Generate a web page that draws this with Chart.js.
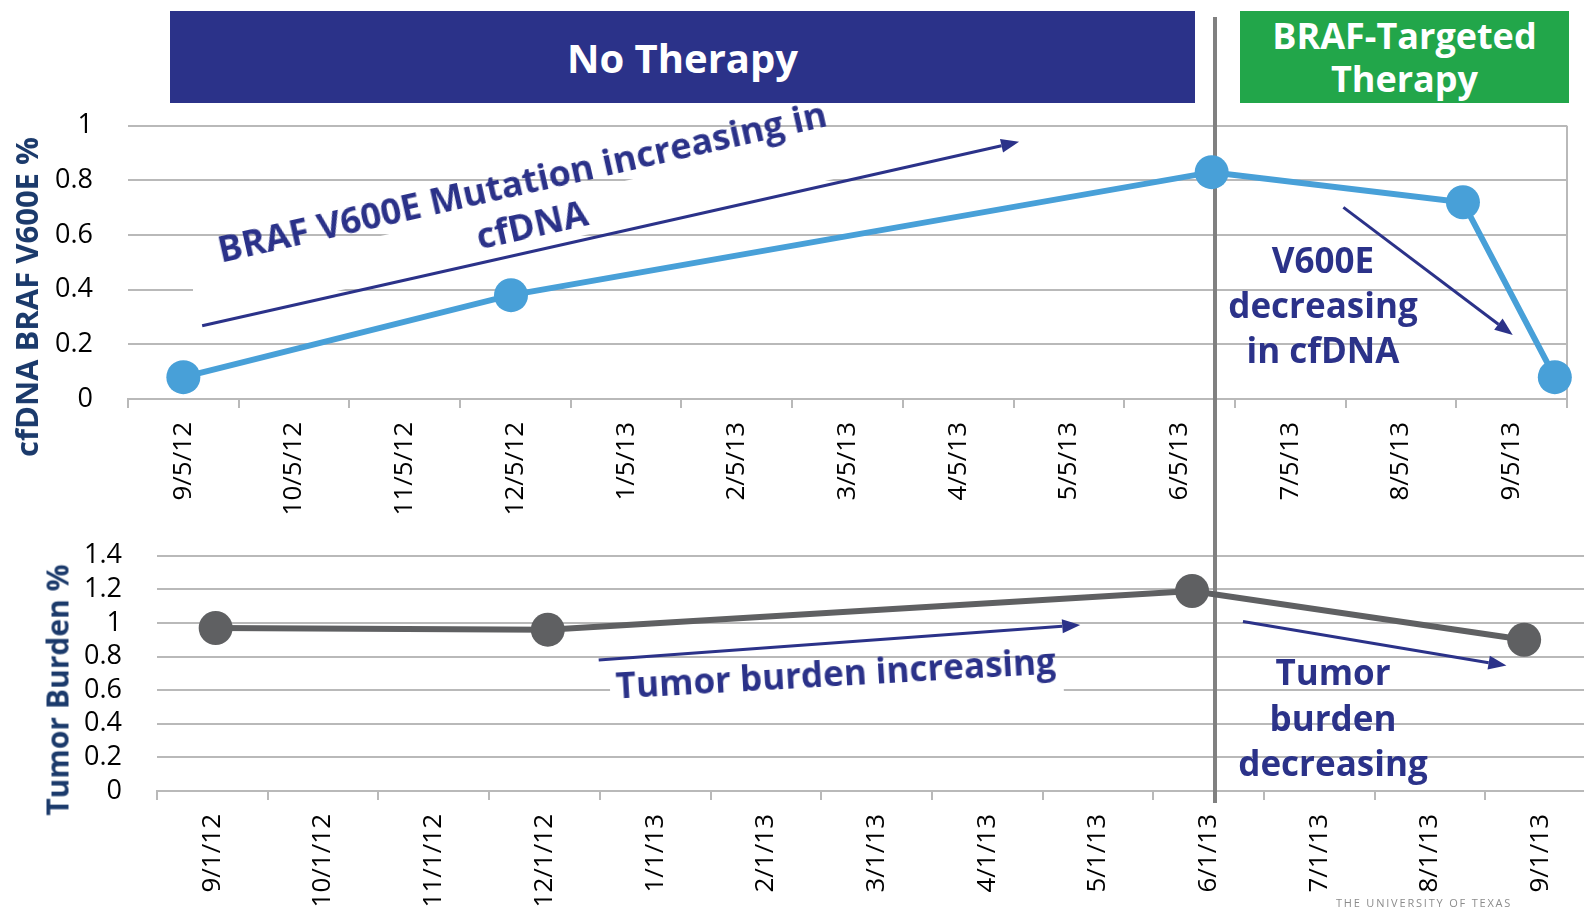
<!DOCTYPE html>
<html>
<head>
<meta charset="utf-8">
<title>cfDNA BRAF V600E and tumor burden</title>
<script src="https://cdn.jsdelivr.net/npm/chart.js@4.4.1/dist/chart.umd.min.js"></script>
<style>
  html, body { margin:0; padding:0; background:#fff; overflow:hidden; }
  #stage { position:relative; width:1584px; height:909px; overflow:hidden; font-family:'Open Sans','Noto Sans',sans-serif; }
  #stage canvas { position:absolute; left:0; }
  .banner { position:absolute; color:#fff; font-weight:700; text-align:center; display:flex; align-items:center; justify-content:center; }
  .note { position:absolute; color:#2B3289; font-weight:700; white-space:nowrap; text-align:center; }
  .axis-title { position:absolute; color:#1B3A6B; font-weight:700; white-space:nowrap; transform:translate(-50%,-50%) rotate(-90deg); }
  .footer { position:absolute; color:#8c8c8c; font-size:11px; letter-spacing:1.8px; white-space:nowrap; }
</style>
</head>
<body>
<div id="stage">
  <canvas id="cfdnaChart" width="1584" height="535" style="top:0"></canvas>
  <canvas id="tumorChart" width="1620" height="374" style="top:535px"></canvas>

  <div class="banner" style="left:170px;top:11px;width:1025px;height:92px;background:#2B3289;font-size:40px;">No Therapy</div>
  <div class="banner" style="left:1240px;top:11px;width:329px;height:92px;background:#22A64A;font-size:36px;line-height:43px;"><div>BRAF-Targeted<br>Therapy</div></div>

  <div class="axis-title" style="left:26px;top:297px;font-size:31px;">cfDNA BRAF V600E %</div>
  <div class="axis-title" style="left:57px;top:690px;font-size:30px;">Tumor Burden %</div>

  <div class="note" style="left:527px;top:203px;width:690px;font-size:36px;transform:translate(-50%,-50%) rotate(-12.7deg);">
    <div style="line-height:44px;">BRAF V600E Mutation increasing in</div>
    <div style="line-height:44px;background:#fff;">cfDNA</div>
  </div>
  <div class="note" style="left:1173px;top:237px;width:300px;font-size:35px;line-height:45px;">V600E<br>decreasing<br>in cfDNA</div>

  <div class="note" style="left:836px;top:678px;font-size:35px;line-height:46px;padding:0 6px 10px 6px;background:linear-gradient(to bottom, rgba(255,255,255,0) 22px, #fff 22px, #fff 55px, rgba(255,255,255,0) 55px);transform:translate(-50%,-50%) rotate(-3.27deg);">Tumor burden increasing</div>
  <div class="note" style="left:1183px;top:649px;width:300px;font-size:35px;line-height:45.5px;">Tumor<br>burden<br>decreasing</div>

  <div class="footer" style="left:1336px;top:895px;">THE UNIVERSITY OF TEXAS</div>
</div>

<script>
// cfDNA BRAF V600E fraction, positions in months from the first axis label
const cfdnaLabels = ['9/5/12','10/5/12','11/5/12','12/5/12','1/5/13','2/5/13','3/5/13','4/5/13','5/5/13','6/5/13','7/5/13','8/5/13','9/5/13'];
const cfdnaMonth  = [0, 2.96, 9.29, 11.56, 12.39];
const cfdnaValue  = [0.08, 0.38, 0.83, 0.72, 0.08];
const cfdnaYTicks = [0, 0.2, 0.4, 0.6, 0.8, 1];

// tumor burden, positions in months from the first axis label
const tumorLabels = ['9/1/12','10/1/12','11/1/12','12/1/12','1/1/13','2/1/13','3/1/13','4/1/13','5/1/13','6/1/13','7/1/13','8/1/13','9/1/13'];
const tumorMonth  = [0.03, 3.03, 8.85, 11.85];
const tumorValue  = [0.97, 0.96, 1.19, 0.90];
const tumorYTicks = [0, 0.2, 0.4, 0.6, 0.8, 1, 1.2, 1.4];

const GRID = '#b9b9b9';
const NAVY = '#2B3289';
const BLUE = '#48A0D8';
const GRAY = '#5F6062';
const FONT = "'Open Sans', 'Noto Sans', sans-serif";
Chart.defaults.font.family = FONT;

// vertical line separating the two treatment phases (page x)
const PHASE_LINE_X = 1215;

const phaseLinePlugin = {
  id: 'phaseLine',
  beforeDatasetsDraw(chart, args, opts) {
    const ctx = chart.ctx;
    ctx.save();
    ctx.strokeStyle = opts.color;
    ctx.lineWidth = opts.width;
    ctx.beginPath();
    ctx.moveTo(opts.x, opts.from);
    ctx.lineTo(opts.x, opts.to);
    ctx.stroke();
    ctx.restore();
  }
};

const trendArrowPlugin = {
  id: 'trendArrows',
  afterDatasetsDraw(chart, args, opts) {
    const { ctx, scales: { x, y } } = chart;
    (opts.items || []).forEach(a => {
      const x1 = x.getPixelForValue(a.from[0]), y1 = y.getPixelForValue(a.from[1]);
      const x2 = x.getPixelForValue(a.to[0]),   y2 = y.getPixelForValue(a.to[1]);
      const ang = Math.atan2(y2 - y1, x2 - x1);
      const hl = opts.headLength, hw = opts.headWidth;
      const bx = x2 - hl * Math.cos(ang), by = y2 - hl * Math.sin(ang);
      ctx.save();
      ctx.strokeStyle = opts.color;
      ctx.fillStyle = opts.color;
      ctx.lineWidth = opts.width;
      ctx.beginPath();
      ctx.moveTo(x1, y1);
      ctx.lineTo(bx, by);
      ctx.stroke();
      ctx.beginPath();
      ctx.moveTo(x2, y2);
      ctx.lineTo(bx - hw / 2 * Math.sin(ang), by + hw / 2 * Math.cos(ang));
      ctx.lineTo(bx + hw / 2 * Math.sin(ang), by - hw / 2 * Math.cos(ang));
      ctx.closePath();
      ctx.fill();
      ctx.restore();
    });
  }
};

function monthAxis(labels, axisHeight) {
  return {
    type: 'linear',
    min: -0.5,
    max: labels.length - 0.5,
    afterBuildTicks: s => { s.ticks = labels.map((_, i) => ({ value: i })); },
    afterFit: s => { s.height = axisHeight; },
    grid: {
      offset: true,
      drawOnChartArea: true,
      // only the closing edge line on the right is drawn across the plot
      color: c => (c.type === 'scale' ? GRID : 'rgba(0,0,0,0)'),
      tickColor: GRID,
      tickLength: 9,
      lineWidth: 2
    },
    border: { display: true, color: GRID, width: 2 },
    ticks: {
      autoSkip: false,
      minRotation: 90,
      maxRotation: 90,
      padding: 14,
      color: '#000',
      font: { family: FONT, size: 26 },
      callback: (v, i) => labels[i]
    }
  };
}

function valueAxis(tickValues, axisWidth) {
  return {
    type: 'linear',
    min: tickValues[0],
    max: tickValues[tickValues.length - 1],
    afterBuildTicks: s => { s.ticks = tickValues.map(v => ({ value: v })); },
    afterFit: s => { s.width = axisWidth; },
    // an invisible tick mark keeps the labels clear of the plot
    grid: { color: GRID, lineWidth: 2, drawTicks: true, tickLength: 35, tickColor: 'rgba(0,0,0,0)' },
    border: { display: false },
    ticks: {
      autoSkip: false,
      padding: 0,
      color: '#000',
      font: { family: FONT, size: 27 },
      callback: v => String(v)
    }
  };
}

function lineDataset(months, values, color) {
  return {
    data: months.map((m, i) => ({ x: m, y: values[i] })),
    borderColor: color,
    backgroundColor: color,
    pointBackgroundColor: color,
    pointBorderWidth: 0,
    borderWidth: 6,
    pointRadius: 17,
    tension: 0,
    clip: false
  };
}

new Chart(document.getElementById('cfdnaChart'), {
  type: 'line',
  data: { datasets: [lineDataset(cfdnaMonth, cfdnaValue, BLUE)] },
  plugins: [phaseLinePlugin, trendArrowPlugin],
  options: {
    responsive: false,
    animation: false,
    events: [],
    layout: { padding: { top: 125.7, left: 0, right: 17, bottom: 0 } },
    scales: {
      x: monthAxis(cfdnaLabels, 136),
      y: valueAxis(cfdnaYTicks, 128)
    },
    plugins: {
      legend: { display: false },
      tooltip: { enabled: false },
      phaseLine: { x: PHASE_LINE_X, from: 17, to: 535, color: '#808080', width: 4 },
      trendArrows: {
        color: NAVY, width: 3, headLength: 18, headWidth: 14,
        items: [
          { from: [0.17, 0.268], to: [7.55, 0.941] },
          { from: [10.48, 0.701], to: [12.01, 0.234] }
        ]
      }
    }
  }
});

new Chart(document.getElementById('tumorChart'), {
  type: 'line',
  data: { datasets: [lineDataset(tumorMonth, tumorValue, GRAY)] },
  plugins: [phaseLinePlugin, trendArrowPlugin],
  options: {
    responsive: false,
    animation: false,
    events: [],
    layout: { padding: { top: 20.7, left: 0, right: 23.9, bottom: 0 } },
    scales: {
      x: monthAxis(tumorLabels, 118),
      y: valueAxis(tumorYTicks, 157)
    },
    plugins: {
      legend: { display: false },
      tooltip: { enabled: false },
      phaseLine: { x: PHASE_LINE_X, from: 0, to: 268, color: '#808080', width: 4 },
      trendArrows: {
        color: NAVY, width: 3, headLength: 18, headWidth: 14,
        items: [
          { from: [3.49, 0.78], to: [7.84, 0.988] },
          { from: [9.31, 1.008], to: [11.69, 0.746] }
        ]
      }
    }
  }
});
</script>
</body>
</html>
